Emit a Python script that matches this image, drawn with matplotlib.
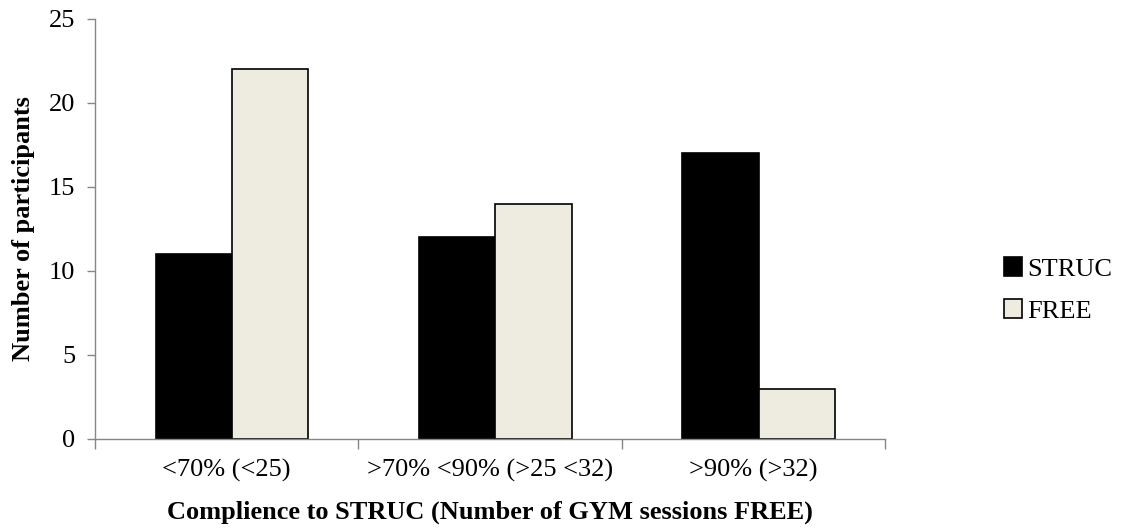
import numpy as np
import matplotlib.pyplot as plt

categories = ['<70% (<25)', '>70% <90% (>25 <32)', '>90% (>32)']
struc_values = [11, 12, 17]
free_values = [22, 14, 3]
y_ticks = [0, 5, 10, 15, 20, 25]

plt.rcParams['font.family'] = ['Liberation Serif', 'DejaVu Serif']

fig = plt.figure(figsize=(11.29, 5.31), dpi=100)
ax = fig.add_axes([0.0841, 0.1733, 0.7, 0.791])

x = np.arange(len(categories))
width = 0.29
ax.bar(x - width / 2 + 0.02, struc_values, width, color='black', edgecolor='black',
       linewidth=1.2, label='STRUC')
ax.bar(x + width / 2 + 0.02, free_values, width, color='#EEECE1', edgecolor='black',
       linewidth=1.2, label='FREE')

ax.set_xlim(-0.5, len(categories) - 0.5)
ax.set_ylim(0, 25)
ax.set_yticks(y_ticks)
ax.set_xticks(x)
ax.set_xticklabels(categories, fontsize=19)
ax.tick_params(axis='x', length=0, pad=14)
ax.set_xticks(np.arange(-0.5, len(categories)), minor=True)
ax.tick_params(axis='x', which='minor', length=7, color='#868686', width=1)
ax.tick_params(axis='y', labelsize=19, length=6, color='#868686', width=1, pad=8)

for side in ['top', 'right']:
    ax.spines[side].set_visible(False)
for side in ['left', 'bottom']:
    ax.spines[side].set_color('#868686')
    ax.spines[side].set_linewidth(1)

ax.set_ylabel('Number of participants', fontsize=19, fontweight='bold', labelpad=10)
ax.set_xlabel('Complience to STRUC (Number of GYM sessions FREE)', fontsize=19,
              fontweight='bold', labelpad=14)

ax.legend(loc='center left', bbox_to_anchor=(1.12, 0.355), frameon=False,
          fontsize=19, handlelength=0.7, handleheight=0.7, handletextpad=0.2,
          labelspacing=0.7)

fig.savefig('out.png', dpi=100)
